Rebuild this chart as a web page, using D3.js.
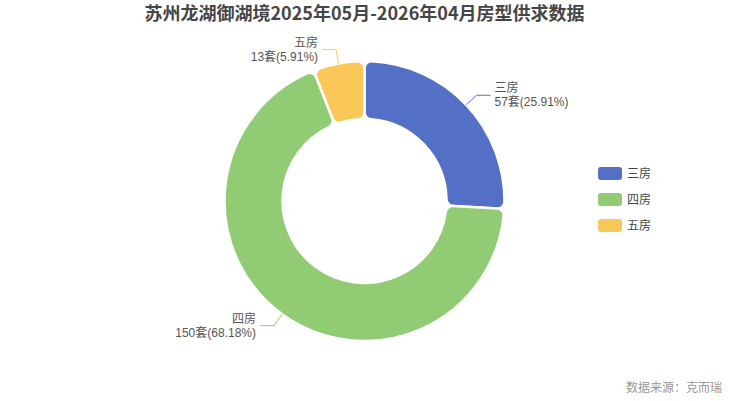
<!DOCTYPE html>
<html>
<head>
<meta charset="utf-8">
<script src="https://cdn.jsdelivr.net/npm/d3@7/dist/d3.min.js"></script>
<style>
  body { margin: 0; background: #fff; }
  svg { display: block; font-family: "Noto Sans CJK SC", "Noto Sans", sans-serif; }
  .pieLabel { font-family: "Liberation Sans", "Noto Sans CJK SC", sans-serif; }
</style>
</head>
<body>
<div class="chartHere"></div>
<script>
var title = "苏州龙湖御湖境2025年05月-2026年04月房型供求数据";
var categories = ["三房", "四房", "五房"];
var values = [57, 150, 13];
var colors = ["#5470c6", "#91cc75", "#fac858"];
var source = "数据来源：克而瑞";

var width = 729, height = 401;
var cx = 364.5, cy = 201;
var outerR = 140, innerR = 82;

var svg = d3.select(".chartHere").append("svg")
  .attr("width", width)
  .attr("height", height);

svg.append("text")
  .attr("x", width / 2)
  .attr("y", 20)
  .attr("text-anchor", "middle")
  .attr("font-size", 18)
  .attr("font-weight", "bold")
  .attr("fill", "#464646")
  .text(title);

var total = d3.sum(values);
var items = categories.map(function(c, i){ return {name: c, value: values[i], color: colors[i]}; });

var pie = d3.pie().value(function(d){ return d.value; }).sort(null);
var arc = d3.arc().innerRadius(innerR).outerRadius(outerR).cornerRadius(7);

var g = svg.append("g").attr("transform", "translate(" + cx + "," + cy + ")");

var arcs = pie(items);
g.selectAll("path.slice").data(arcs).enter().append("path")
  .attr("class", "slice")
  .attr("d", arc)
  .attr("fill", function(d){ return d.data.color; })
  .attr("stroke", "#fff")
  .attr("stroke-width", 2.5);

// labels with guide lines
arcs.forEach(function(d){
  var mid = (d.startAngle + d.endAngle) / 2;
  var sx = Math.sin(mid), sy = -Math.cos(mid);
  var p0 = [sx * outerR, sy * outerR];
  var p1 = [sx * (outerR + 14), sy * (outerR + 14)];
  var right = sx >= 0;
  var p2 = [p1[0] + (right ? 14 : -14), p1[1]];
  g.append("polyline")
    .attr("points", [p0, p1, p2].map(function(p){ return p.join(","); }).join(" "))
    .attr("fill", "none")
    .attr("stroke", d.data.color)
    .attr("stroke-width", 1);
  var pct = (d.data.value / total * 100).toFixed(2);
  var tx = p2[0] + (right ? 4 : -4);
  var lines = [d.data.name, d.data.value + "套(" + pct + "%)"];
  lines.forEach(function(s, k){
    g.append("text")
      .attr("class", "pieLabel")
      .attr("x", tx)
      .attr("y", p2[1] + (k - 0.5) * 14)
      .attr("dy", "0.35em")
      .attr("text-anchor", right ? "start" : "end")
      .attr("font-size", 12)
      .attr("fill", "#555")
      .text(s);
  });
});

// legend
var legend = svg.append("g").attr("transform", "translate(598,174)");
items.forEach(function(d, i){
  var row = legend.append("g").attr("transform", "translate(0," + (i * 26) + ")");
  row.append("rect")
    .attr("x", 0).attr("y", -7)
    .attr("width", 24).attr("height", 13)
    .attr("rx", 3)
    .attr("fill", d.color);
  row.append("text")
    .attr("x", 29).attr("y", 0)
    .attr("dy", "0.35em")
    .attr("font-size", 12)
    .attr("fill", "#444")
    .text(d.name);
});

svg.append("text")
  .attr("x", 722)
  .attr("y", 392)
  .attr("text-anchor", "end")
  .attr("font-size", 12)
  .attr("fill", "#999")
  .text(source);
</script>
</body>
</html>
